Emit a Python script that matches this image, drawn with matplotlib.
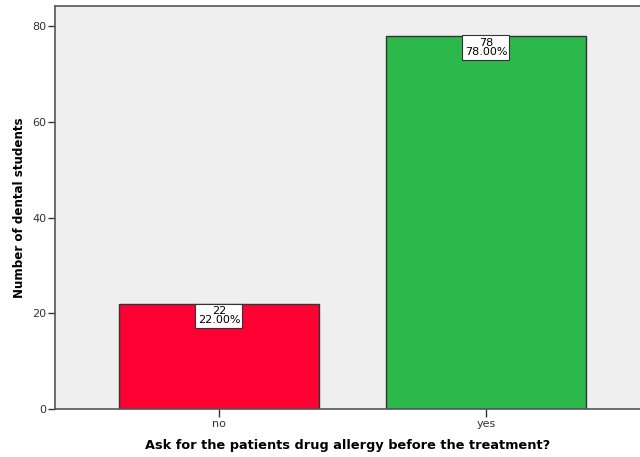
import matplotlib
matplotlib.use('Agg')
import matplotlib.pyplot as plt

categories = ['no', 'yes']
counts = [22, 78]
percents = [22.00, 78.00]
colors = ['#FF0033', '#2DB84B']

fig = plt.figure(figsize=(6.4, 4.57), dpi=100)
ax = fig.add_axes([0.086, 0.105, 0.914, 0.882])
ax.set_facecolor('#EFEFEF')

xs = range(len(categories))
ax.bar(xs, counts, width=0.75, color=colors, edgecolor='#333333', linewidth=1)

for x, c, p in zip(xs, counts, percents):
    ax.annotate('{0}\n{1:.2f}%'.format(c, p), xy=(x, c), xytext=(0, -1.5),
                textcoords='offset points', ha='center', va='top',
                fontsize=8, linespacing=0.95,
                bbox=dict(boxstyle='square,pad=0.2', fc='white', ec='#333333', lw=0.8))

ax.set_xlim(-0.614, 1.577)
ax.set_ylim(0, 84.2)
ax.set_yticks([0, 20, 40, 60, 80])
ax.set_xticks(list(xs))
ax.set_xticklabels(categories)
ax.tick_params(axis='both', labelsize=8, colors='#333333', length=5, width=1)
ax.tick_params(axis='y', pad=1)
ax.tick_params(axis='x', length=6, pad=1.5)

for s in ['left', 'bottom', 'top']:
    ax.spines[s].set_color('#555555')
    ax.spines[s].set_linewidth(1.2)
ax.spines['right'].set_visible(False)

ax.set_xlabel('Ask for the patients drug allergy before the treatment?',
              fontsize=9.3, fontweight='bold', labelpad=7)
ax.set_ylabel('Number of dental students', fontsize=8.6, fontweight='bold', labelpad=5)

fig.savefig('out.png', dpi=100)
